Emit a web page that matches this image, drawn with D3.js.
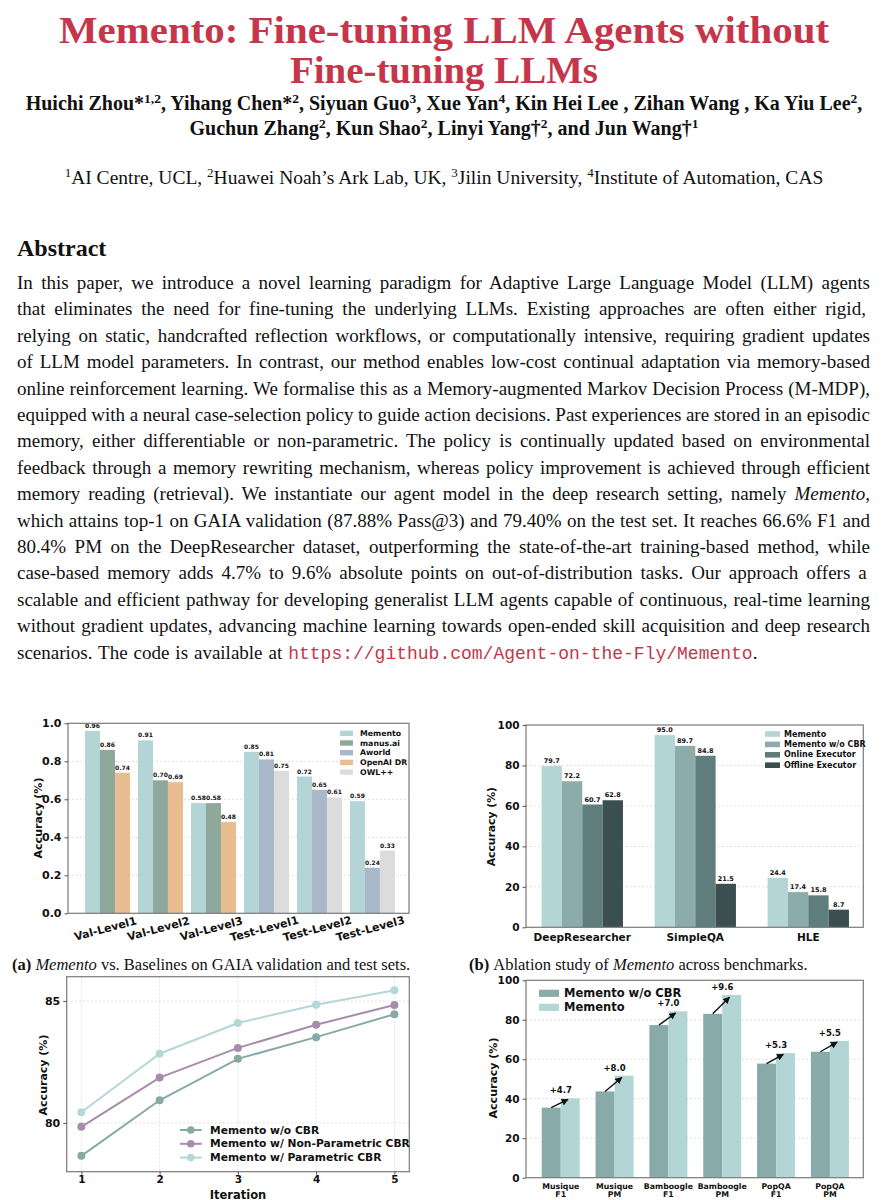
<!DOCTYPE html>
<html><head><meta charset="utf-8">
<script src="https://cdn.jsdelivr.net/npm/d3@7"></script>
<style>body{margin:0;background:#fff}svg{display:block}</style>
</head><body>
<svg id="page" width="888" height="1200"></svg>
<script>
// ---------------- DATA ----------------
// (a) GAIA
const gaiaCategories = ["Val-Level1","Val-Level2","Val-Level3","Test-Level1","Test-Level2","Test-Level3"];
const gaiaMemento = [0.96,0.91,0.58,0.85,0.72,0.59];
const gaiaManus   = [0.86,0.70,0.58,null,null,null];
const gaiaAworld  = [null,null,null,0.81,0.65,0.24];
const gaiaOpenAI  = [0.74,0.69,0.48,null,null,null];
const gaiaOwl     = [null,null,null,0.75,0.61,0.33];
const gaiaTicks   = [0.0,0.2,0.4,0.6,0.8,1.0];
// (b) ablation
const ablCategories = ["DeepResearcher","SimpleQA","HLE"];
const ablMemento = [79.7,95.0,24.4];
const ablWoCBR   = [72.2,89.7,17.4];
const ablOnline  = [60.7,84.8,15.8];
const ablOffline = [62.8,21.5,8.7];
const ablTicks   = [0,20,40,60,80,100];
// (c) iterations
const iterations = [1,2,3,4,5];
const iterWoCBR  = [78.65,80.93,82.63,83.52,84.46];
const iterNonPar = [79.84,81.86,83.08,84.03,84.84];
const iterPar    = [80.44,82.84,84.10,84.85,85.44];
const iterYTicks = [80,85];
// (d) OOD
const oodCategories = [["Musique","F1"],["Musique","PM"],["Bamboogle","F1"],["Bamboogle","PM"],["PopQA","F1"],["PopQA","PM"]];
const oodWoCBR   = [35.5,43.7,77.3,83.0,57.8,63.8];
const oodMemento = [40.2,51.7,84.3,92.6,63.1,69.3];
const oodTicks   = [0,20,40,60,80,100];

// ---------------- TEXT ----------------
const titleLines = ["Memento: Fine-tuning LLM Agents without","Fine-tuning LLMs"];
const authorLines = [
  [["Huichi Zhou*","1,2"],[", Yihang Chen*","2"],[", Siyuan Guo","3"],[", Xue Yan","4"],[", Kin Hei Lee , Zihan Wang , Ka Yiu Lee","2"],[",",""]],
  [["Guchun Zhang","2"],[", Kun Shao","2"],[", Linyi Yang\u2020","2"],[", and Jun Wang\u2020","1"]]
];
const affiliation = [["1","AI Centre, UCL, "],["2","Huawei Noah\u2019s Ark Lab, UK, "],["3","Jilin University, "],["4","Institute of Automation, CAS"]];
const absLines = [
"In this paper, we introduce a novel learning paradigm for Adaptive Large Language Model (LLM) agents",
"that eliminates the need for fine-tuning the underlying LLMs.  Existing approaches are often either rigid,",
"relying on static, handcrafted reflection workflows, or computationally intensive, requiring gradient updates",
"of LLM model parameters. In contrast, our method enables low-cost continual adaptation via memory-based",
"online reinforcement learning. We formalise this as a Memory-augmented Markov Decision Process (M-MDP),",
"equipped with a neural case-selection policy to guide action decisions. Past experiences are stored in an episodic",
"memory, either differentiable or non-parametric. The policy is continually updated based on environmental",
"feedback through a memory rewriting mechanism, whereas policy improvement is achieved through efficient",
"memory reading (retrieval). We instantiate our agent model in the deep research setting, namely |Memento|,",
"which attains top-1 on GAIA validation (87.88% Pass@3) and 79.40% on the test set. It reaches 66.6% F1 and",
"80.4% PM on the DeepResearcher dataset, outperforming the state-of-the-art training-based method, while",
"case-based memory adds 4.7% to 9.6% absolute points on out-of-distribution tasks.  Our approach offers a",
"scalable and efficient pathway for developing generalist LLM agents capable of continuous, real-time learning",
"without gradient updates, advancing machine learning towards open-ended skill acquisition and deep research",
"scenarios. The code is available at |https://github.com/Agent-on-the-Fly/Memento|."
];

const RED = "#c5364a";
const SERIF = "'Liberation Serif','DejaVu Serif',serif";
const SANS = "'DejaVu Sans',sans-serif";
const svg = d3.select("#page");
svg.append("rect").attr("width",888).attr("height",1200).attr("fill","#fff");

// Title
svg.selectAll("text.title").data(titleLines).join("text").attr("class","title")
  .attr("x",444).attr("y",(d,i)=>43+i*40).attr("text-anchor","middle")
  .attr("font-family",SERIF).attr("font-weight","bold").attr("font-size",37).attr("fill",RED)
  .attr("textLength",(d,i)=>i===0?770:308).attr("lengthAdjust","spacingAndGlyphs").text(d=>d);

// Authors / affiliation with superscripts
function supLine(t, parts, base, supSize, supFirst){
  let raised = false;
  parts.forEach(([a,b])=>{
    const main = supFirst ? b : a, sup = supFirst ? a : b;
    if(supFirst && sup){ t.append("tspan").attr("dy",raised?0:-7).attr("font-size",supSize).text(sup); raised=true; }
    t.append("tspan").attr("dy",raised?7:0).attr("font-size",base).text(main); raised=false;
    if(!supFirst && sup){ t.append("tspan").attr("dy",-7).attr("font-size",supSize).text(sup); raised=true; }
  });
}
authorLines.forEach((line,li)=>{
  const t = svg.append("text").attr("x",444).attr("y",110+li*25).attr("text-anchor","middle")
    .attr("font-family",SERIF).attr("font-weight","bold").attr("font-size",20).attr("fill","#111");
  supLine(t, line.filter(p=>p[0]||p[1]), 20, 13.5, false);
});
{
  const t = svg.append("text").attr("x",444).attr("y",184).attr("text-anchor","middle")
    .attr("font-family",SERIF).attr("font-size",19.5).attr("fill","#111");
  supLine(t, affiliation, 19.5, 13, true);
}
// Abstract heading
svg.append("text").attr("x",17).attr("y",256).attr("font-family",SERIF).attr("font-weight","bold")
  .attr("font-size",24).attr("fill","#111").text("Abstract");
// Abstract body (justified)
absLines.forEach((line,i)=>{
  const t = svg.append("text").attr("x",17).attr("y",289+i*26.4).attr("font-family",SERIF)
    .attr("font-size",19).attr("fill","#111");
  const parts = line.split("|");
  parts.forEach((p,k)=>{
    const ts = t.append("tspan").text(p);
    if(k%2===1){
      if(p.startsWith("http")) ts.attr("font-family","'Liberation Mono','DejaVu Sans Mono',monospace").attr("fill",RED).attr("font-size",18);
      else ts.attr("font-style","italic");
    }
  });
  if(i < absLines.length-1){
    const w = t.node().getComputedTextLength();
    const spaces = (line.replace(/\|/g,"").match(/ /g)||[]).length;
    t.attr("word-spacing", (853 - w)/spaces);
  } else {
    t.attr("word-spacing", 1.2);
  }
});

// ---------------- helpers ----------------
function gridAndFrame(g, x0,x1,y0,y1){
  g.append("rect").attr("x",x0).attr("y",y1).attr("width",x1-x0).attr("height",y0-y1)
   .attr("fill","none").attr("stroke","#7a7a7a").attr("stroke-width",1.2);
}
function hgrid(g, y, vals, x0, x1){
  g.selectAll(null).data(vals).join("line").attr("x1",x0).attr("x2",x1)
   .attr("y1",d=>y(d)).attr("y2",d=>y(d)).attr("stroke","#d8d8d8").attr("stroke-width",0.8).attr("stroke-dasharray","2,2");
}
function yAxis(g, y, x0, vals, fmt, fs){
  const ax = g.append("g").attr("transform",`translate(${x0},0)`)
    .call(d3.axisLeft(y).tickValues(vals).tickFormat(fmt).tickSizeInner(3.5).tickSizeOuter(0).tickPadding(3));
  ax.select(".domain").remove();
  ax.selectAll("line").attr("stroke","#555");
  ax.selectAll("text").attr("font-family",SANS).attr("font-weight","bold").attr("font-size",fs).attr("fill","#111");
}
function yLabel(g, x, y, fs){
  g.append("text").attr("transform",`translate(${x},${y}) rotate(-90)`).attr("text-anchor","middle")
   .attr("dominant-baseline","central").attr("font-family",SANS).attr("font-weight","bold").attr("font-size",fs)
   .attr("fill","#111").text("Accuracy (%)");
}

// ---------------- (a) GAIA ----------------
{
  const g = svg.append("g");
  const x = d3.scaleLinear().domain([-0.745,5.69]).range([68,409]);
  const y = d3.scaleLinear().domain([0,1]).range([913.3,723.3]);
  const bw = 0.283;
  hgrid(g,y,[0.2,0.4,0.6,0.8],68,409);
  const series = [
    {name:"Memento",vals:gaiaMemento,slot:0,color:"#b3d5d5"},
    {name:"manus.ai",vals:gaiaManus,slot:1,color:"#8fa89c"},
    {name:"Aworld",vals:gaiaAworld,slot:1,color:"#a8b8c9"},
    {name:"OpenAI DR",vals:gaiaOpenAI,slot:2,color:"#e8bd8f"},
    {name:"OWL++",vals:gaiaOwl,slot:2,color:"#dcdcdc"}
  ];
  series.forEach(s=>{
    const data = s.vals.map((v,i)=>({v,i})).filter(d=>d.v!==null);
    g.selectAll(null).data(data).join("rect")
      .attr("x",d=>x(d.i+(s.slot-1.5)*bw)).attr("width",x(bw)-x(0))
      .attr("y",d=>y(d.v)).attr("height",d=>y(0)-y(d.v)).attr("fill",s.color);
    g.selectAll(null).data(data).join("text")
      .attr("x",d=>x(d.i+(s.slot-1)*bw)).attr("y",d=>y(d.v)-3).attr("text-anchor","middle")
      .attr("font-family",SANS).attr("font-weight","bold").attr("font-size",6).attr("fill","#111")
      .text(d=>d3.format(".2f")(d.v));
  });
  gridAndFrame(g,68,409,913.3,723.3);
  yAxis(g,y,68,gaiaTicks,d3.format(".1f"),11);
  yLabel(g,38,818,11);
  g.selectAll(null).data(gaiaCategories).join("text")
    .attr("transform",(d,i)=>`translate(${x(i)-2},929) rotate(-15)`).attr("text-anchor","middle")
    .attr("dominant-baseline","central").attr("font-family",SANS).attr("font-weight","bold").attr("font-size",11)
    .attr("fill","#111").text(d=>d);
  const leg = g.append("g");
  series.forEach((s,k)=>{
    const yy = 733.3 + k*9.7;
    leg.append("rect").attr("x",340).attr("y",yy-2.7).attr("width",13).attr("height",5.4).attr("fill",s.color);
    leg.append("text").attr("x",360).attr("y",yy).attr("dominant-baseline","central")
      .attr("font-family",SANS).attr("font-weight","bold").attr("font-size",7.8).attr("fill","#111").text(s.name);
  });
}

// ---------------- (b) Ablation ----------------
{
  const g = svg.append("g");
  const x = d3.scaleLinear().domain([-0.498,2.487]).range([526,863.3]);
  const y = d3.scaleLinear().domain([0,100]).range([927.3,725]);
  const bw = 0.18;
  hgrid(g,y,[20,40,60,80],526,863.3);
  const series = [
    {name:"Memento",vals:ablMemento,color:"#b3d5d5"},
    {name:"Memento w/o CBR",vals:ablWoCBR,color:"#8bacab"},
    {name:"Online Executor",vals:ablOnline,color:"#5f7d7d"},
    {name:"Offline Executor",vals:ablOffline,color:"#3b4e50"}
  ];
  series.forEach((s,k)=>{
    const data = s.vals.map((v,i)=>({v,i}));
    g.selectAll(null).data(data).join("rect")
      .attr("x",d=>x(d.i+(k-2)*bw)).attr("width",x(bw)-x(0))
      .attr("y",d=>y(d.v)).attr("height",d=>y(0)-y(d.v)).attr("fill",s.color);
    g.selectAll(null).data(data).join("text")
      .attr("x",d=>x(d.i+(k-1.5)*bw)).attr("y",d=>y(d.v)-3).attr("text-anchor","middle")
      .attr("font-family",SANS).attr("font-weight","bold").attr("font-size",6.5).attr("fill","#111")
      .text(d=>d3.format(".1f")(d.v));
  });
  gridAndFrame(g,526,863.3,927.3,725);
  yAxis(g,y,526,ablTicks,d3.format("d"),10.5);
  yLabel(g,491.7,826.7,10.8);
  g.selectAll(null).data(ablCategories).join("text")
    .attr("x",(d,i)=>x(i)).attr("y",941).attr("text-anchor","middle")
    .attr("font-family",SANS).attr("font-weight","bold").attr("font-size",10.5).attr("fill","#111").text(d=>d);
  series.forEach((s,k)=>{
    const yy = 734 + k*10.4;
    g.append("rect").attr("x",765).attr("y",yy-2.8).attr("width",15).attr("height",5.6).attr("fill",s.color);
    g.append("text").attr("x",784).attr("y",yy).attr("dominant-baseline","central")
      .attr("font-family",SANS).attr("font-weight","bold").attr("font-size",8).attr("fill","#111").text(s.name);
  });
}

// ---------------- captions ----------------
{
  const c1 = svg.append("text").attr("x",12).attr("y",970).attr("font-family",SERIF).attr("font-size",16.5).attr("fill","#111");
  c1.append("tspan").attr("font-weight","bold").text("(a) ");
  c1.append("tspan").attr("font-style","italic").text("Memento");
  c1.append("tspan").text(" vs. Baselines on GAIA validation and test sets.");
  const c2 = svg.append("text").attr("x",469).attr("y",970).attr("font-family",SERIF).attr("font-size",16.5).attr("fill","#111");
  c2.append("tspan").attr("font-weight","bold").text("(b) ");
  c2.append("tspan").text("Ablation study of ");
  c2.append("tspan").attr("font-style","italic").text("Memento");
  c2.append("tspan").text(" across benchmarks.");
}

// ---------------- (c) Iterations ----------------
{
  const g = svg.append("g");
  const x = d3.scaleLinear().domain([0.813,5.19]).range([66.7,409.3]);
  const y = d3.scaleLinear().domain([78,86]).range([1171.7,976.7]);
  hgrid(g,y,iterYTicks,66.7,409.3);
  g.selectAll(null).data(iterations).join("line").attr("x1",d=>x(d)).attr("x2",d=>x(d))
    .attr("y1",976.7).attr("y2",1171.7).attr("stroke","#d8d8d8").attr("stroke-width",0.8).attr("stroke-dasharray","2,2");
  const series = [
    {name:"Memento w/o CBR",vals:iterWoCBR,color:"#88aaa5"},
    {name:"Memento w/ Non-Parametric CBR",vals:iterNonPar,color:"#a88cab"},
    {name:"Memento w/ Parametric CBR",vals:iterPar,color:"#b4d7d7"}
  ];
  const line = d3.line().x((d,i)=>x(iterations[i])).y(d=>y(d));
  series.forEach(s=>{
    g.append("path").attr("d",line(s.vals)).attr("fill","none").attr("stroke",s.color).attr("stroke-width",2);
    g.selectAll(null).data(s.vals).join("circle").attr("cx",(d,i)=>x(iterations[i])).attr("cy",d=>y(d))
      .attr("r",4).attr("fill",s.color);
  });
  gridAndFrame(g,66.7,409.3,1171.7,976.7);
  yAxis(g,y,66.7,iterYTicks,d3.format("d"),11);
  yLabel(g,43,1075,11);
  const ax = g.append("g").attr("transform","translate(0,1171.7)")
    .call(d3.axisBottom(x).tickValues(iterations).tickFormat(d3.format("d")).tickSizeInner(3).tickSizeOuter(0).tickPadding(1));
  ax.select(".domain").remove();
  ax.selectAll("line").attr("stroke","#555");
  ax.selectAll("text").attr("font-family",SANS).attr("font-weight","bold").attr("font-size",10.5).attr("fill","#111");
  g.append("text").attr("x",238).attr("y",1198.5).attr("text-anchor","middle").attr("font-family",SANS)
    .attr("font-weight","bold").attr("font-size",11.5).attr("fill","#111").text("Iteration");
  series.forEach((s,k)=>{
    const yy = 1130 + k*13.8;
    g.append("line").attr("x1",180).attr("x2",201.7).attr("y1",yy).attr("y2",yy).attr("stroke",s.color).attr("stroke-width",2);
    g.append("circle").attr("cx",190.8).attr("cy",yy).attr("r",3.8).attr("fill",s.color);
    g.append("text").attr("x",210).attr("y",yy).attr("dominant-baseline","central").attr("font-family",SANS)
      .attr("font-weight","bold").attr("font-size",10.7).attr("fill","#111").text(s.name);
  });
}

// ---------------- (d) OOD ----------------
{
  const g = svg.append("g");
  const x = d3.scaleLinear().domain([-0.645,5.62]).range([526,863.3]);
  const y = d3.scaleLinear().domain([0,100]).range([1177.7,980.3]);
  const bw = 0.353;
  hgrid(g,y,[20,40,60,80],526,863.3);
  const defs = svg.append("defs");
  defs.append("marker").attr("id","arr").attr("viewBox","0 0 10 10").attr("refX",9).attr("refY",5)
    .attr("markerWidth",7).attr("markerHeight",7).attr("orient","auto-start-reverse").attr("markerUnits","userSpaceOnUse")
    .append("path").attr("d","M0,0 L10,5 L0,10 z").attr("fill","#111");
  const series = [
    {name:"Memento w/o CBR",vals:oodWoCBR,off:-1,color:"#88aaa8"},
    {name:"Memento",vals:oodMemento,off:0,color:"#b3d5d5"}
  ];
  series.forEach(s=>{
    g.selectAll(null).data(s.vals).join("rect")
      .attr("x",(d,i)=>x(i+s.off*bw)).attr("width",x(bw)-x(0))
      .attr("y",d=>y(d)).attr("height",d=>y(0)-y(d)).attr("fill",s.color);
  });
  oodWoCBR.forEach((w,i)=>{
    const m = oodMemento[i];
    const x1 = x(i-bw/2), y1 = y(w), x2 = x(i+bw/2), y2 = y(m);
    const f = 0.88;
    g.append("line").attr("x1",x1).attr("y1",y1).attr("x2",x1+(x2-x1)*f).attr("y2",y1+(y2-y1)*f)
      .attr("stroke","#111").attr("stroke-width",1.4).attr("marker-end","url(#arr)");
    g.append("text").attr("x",x(i)).attr("y",y2-8).attr("text-anchor","middle").attr("dominant-baseline","central")
      .attr("font-family",SANS).attr("font-weight","bold").attr("font-size",8.5).attr("fill","#111")
      .text("+"+d3.format(".1f")(m-w));
  });
  gridAndFrame(g,526,863.3,1177.7,980.3);
  yAxis(g,y,526,oodTicks,d3.format("d"),10.5);
  yLabel(g,493,1078,11);
  oodCategories.forEach((c,i)=>{
    g.append("text").attr("x",x(i)).attr("y",1189).attr("text-anchor","middle").attr("font-family",SANS)
      .attr("font-weight","bold").attr("font-size",7.8).attr("fill","#111")
      .selectAll("tspan").data(c).join("tspan").attr("x",x(i)).attr("dy",(d,k)=>k?8:0).text(d=>d);
  });
  series.forEach((s,k)=>{
    const yy = 993.3 + k*14;
    g.append("rect").attr("x",539).attr("y",yy-3.6).attr("width",20).attr("height",7.2).attr("fill",s.color);
    g.append("text").attr("x",564).attr("y",yy).attr("dominant-baseline","central").attr("font-family",SANS)
      .attr("font-weight","bold").attr("font-size",11.5).attr("fill","#111").text(s.name);
  });
}
</script>
</body></html>
